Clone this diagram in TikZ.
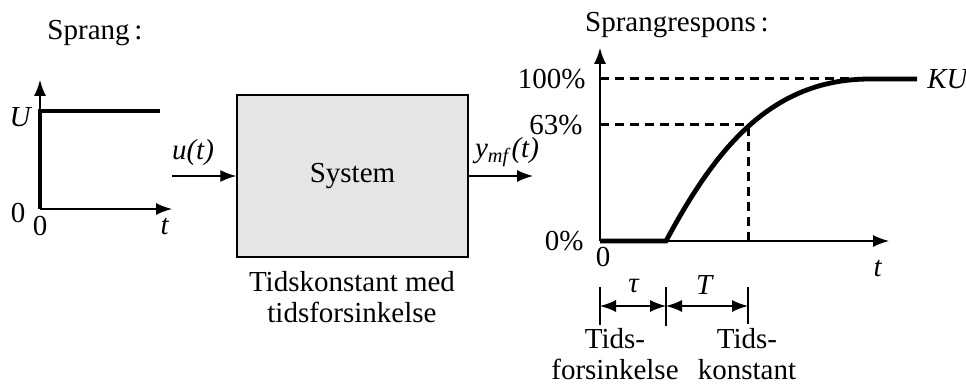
\documentclass[tikz,border=0pt]{standalone}
\usepackage{fontspec}
\setmainfont{Liberation Serif}
\usetikzlibrary{arrows.meta}
\tikzset{
	thin axis/.style={line width=0.7pt},
	heavy/.style={line width=2.4pt},
	guide/.style={line width=1.5pt,dash pattern=on 4.5pt off 3pt},
	lbl/.style={inner sep=1pt},
}
\begin{document}
\begin{tikzpicture}[>={Latex[length=8pt,width=6pt]},x=0.5pt,y=-0.5pt,
	font=\fontsize{14.5}{15.5}\selectfont]
	\useasboundingbox (0,0) rectangle (966,385);

	% inngangssprang
	\node[lbl] (sprang) at (95,33) {Sprang\,:};
	\draw[thin axis,->] (40,209) -- (40,80);
	\draw[thin axis,->] (40,209) -- (172,209);
	\draw[heavy] (40,209) -- (40,111) -- (160,111);
	\node[lbl] (uu) at (21,117) {\textit{U}};
	\node[lbl] (nullu) at (18,213) {0};
	\node[lbl] (nullt) at (40,226) {0};
	\node[lbl] (tu) at (165,226) {\textit{t}};

	% systemblokk
	\node[draw,thin axis,fill=black!10,minimum width=115.5pt,minimum height=81pt,inner sep=0pt] (sys) at (352.5,176) {System};
	\coordinate (uin) at (172,176);
	\coordinate (yout) at (533,176);
	\draw[thin axis,->] (uin) -- (sys.west);
	\draw[thin axis,->] (sys.east) -- (yout);
	\node[lbl] (ut) at (193,153) {\textit{u(t)}};
	\node[lbl] (ymf) at (507,152) {\textit{y}\textsubscript{\textit{mf}}\textit{(t)}};
	\node[lbl,align=center] (cap) at (352,297) {Tidskonstant med\\tidsforsinkelse};

	% sprangrespons
	\node[lbl] (respons) at (677,25) {Sprangrespons\,:};
	\draw[thin axis,->] (600,241) -- (600,48);
	\draw[thin axis,->] (600,241) -- (889,241);
	\draw[guide] (600,79) -- (850,79);
	\draw[guide] (600,125) -- (748,125) -- (748,241);
	\draw[heavy] (600,241) -- (666,241) .. controls (715,150) and (770,79) .. (870,79) -- (917,79);
	\node[lbl,anchor=east] (p100) at (588,79) {100\%};
	\node[lbl,anchor=east] (p63) at (585,125) {63\%};
	\node[lbl,anchor=east] (p0) at (586,241) {0\%};
	\node[lbl] (nullr) at (603,257) {0};
	\node[lbl] (tr) at (878,268) {\textit{t}};
	\node[lbl,anchor=west] (ku) at (925,79) {\textit{KU}};

	% tidsmarkeringer
	\draw[thin axis] (600,287) -- (600,325);
	\draw[thin axis] (666,287) -- (666,326);
	\draw[thin axis] (748,287) -- (748,324);
	\draw[thin axis,<->] (600,306) -- (666,306);
	\draw[thin axis,<->] (666,306) -- (748,306);
	\node[lbl] (tau) at (634,286) {\textit{τ}};
	\node[lbl] (tk) at (705,285) {\textit{T}};
	\node[lbl,align=center] (forsink) at (615,354) {Tids-\\forsinkelse};
	\node[lbl,align=center] (konst) at (747,354) {Tids-\\konstant};
\end{tikzpicture}
\end{document}
